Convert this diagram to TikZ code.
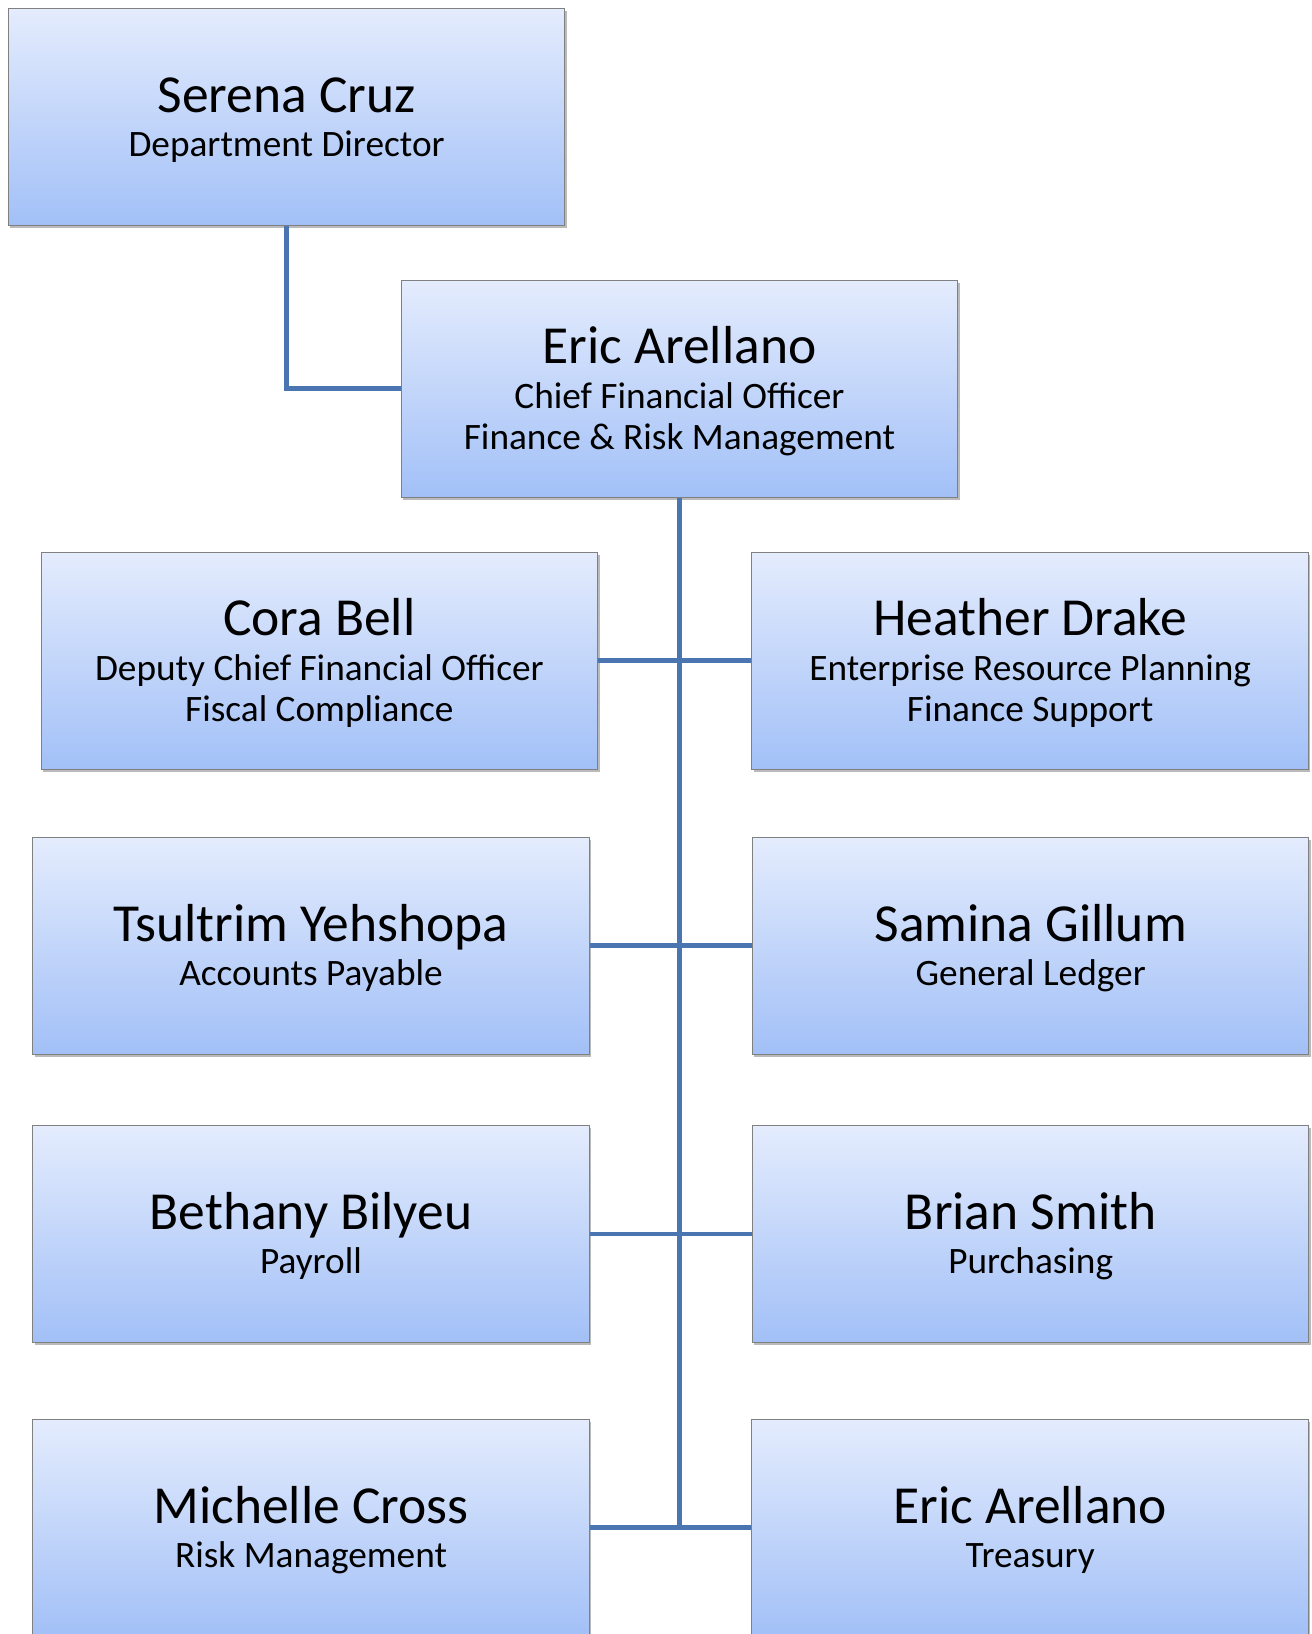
\documentclass[tikz,border=0pt]{standalone}
\usepackage{fontspec}
\setmainfont{Carlito}
\usetikzlibrary{shadows,calc}
\definecolor{boxtop}{RGB}{228,236,253}
\definecolor{boxbot}{RGB}{162,192,247}
\definecolor{boxline}{RGB}{128,128,128}
\definecolor{connblue}{RGB}{74,117,176}
\tikzset{
  unit/.style={rectangle, draw=boxline, line width=1pt, top color=boxtop, bottom color=boxbot,
    minimum width=556.5pt, minimum height=216.8pt, inner sep=0pt,
    drop shadow={shadow xshift=2pt, shadow yshift=-3pt, opacity=0.45, fill=black!60}},
  nametext/.style={anchor=base, inner sep=0pt, font=\fontsize{53.5}{60}\selectfont},
  subtext/.style={anchor=base, inner sep=0pt, font=\fontsize{37.3}{44}\selectfont},
  conn/.style={draw=connblue, line width=4.5pt}
}
\begin{document}
\begin{tikzpicture}[x=1pt,y=-1pt]
\useasboundingbox (0,0) rectangle (1312,1634);
\clip (0,0) rectangle (1312,1634);
% boxes
\node[unit] (serena)   at (286.6,116.7)  {};
\node[unit] (eric)     at (679.5,388.7)  {};
\node[unit] (cora)     at (319.4,660.7)  {};
\node[unit] (heather)  at (1030.2,660.7) {};
\node[unit] (tsultrim) at (311.0,945.7)  {};
\node[unit] (samina)   at (1030.7,945.7) {};
\node[unit] (bethany)  at (311.0,1233.8) {};
\node[unit] (brian)    at (1030.7,1233.8){};
\node[unit] (michelle) at (311.0,1527.7) {};
\node[unit] (ericb)    at (1030.2,1527.7){};
% connectors
\draw[conn] (serena.south) |- (eric.west);
\coordinate (trunkend) at (eric.south |- michelle.east);
\draw[conn] (eric.south) -- (trunkend);
\draw[conn] (cora.east) -- (heather.west);
\draw[conn] (tsultrim.east) -- (samina.west);
\draw[conn] (bethany.east) -- (brian.west);
\draw[conn] (michelle.east) -- (ericb.west);
% texts
\node[nametext] (serenaN) at ([yshift=4pt]serena.center) {Serena Cruz};
\node[subtext] (serenaS) at ([yshift=-40pt]serena.center) {Department Director};

\node[nametext] (ericN) at ([yshift=25pt]eric.center) {Eric Arellano};
\node[subtext] (ericS1) at ([yshift=-20pt]eric.center) {Chief Financial Officer};
\node[subtext] (ericS2) at ([yshift=-61pt]eric.center) {Finance \& Risk Management};

\node[nametext] (coraN) at ([yshift=25pt]cora.center) {Cora Bell};
\node[subtext] (coraS1) at ([yshift=-20pt]cora.center) {Deputy Chief Financial Officer};
\node[subtext] (coraS2) at ([yshift=-61pt]cora.center) {Fiscal Compliance};

\node[nametext] (heatherN) at ([yshift=25pt]heather.center) {Heather Drake};
\node[subtext] (heatherS1) at ([yshift=-20pt]heather.center) {Enterprise Resource Planning};
\node[subtext] (heatherS2) at ([yshift=-61pt]heather.center) {Finance Support};

\node[nametext] (tsultrimN) at ([yshift=4pt]tsultrim.center) {Tsultrim Yehshopa};
\node[subtext] (tsultrimS) at ([yshift=-40pt]tsultrim.center) {Accounts Payable};

\node[nametext] (saminaN) at ([yshift=4pt]samina.center) {Samina Gillum};
\node[subtext] (saminaS) at ([yshift=-40pt]samina.center) {General Ledger};

\node[nametext] (bethanyN) at ([yshift=4pt]bethany.center) {Bethany Bilyeu};
\node[subtext] (bethanyS) at ([yshift=-40pt]bethany.center) {Payroll};

\node[nametext] (brianN) at ([yshift=4pt]brian.center) {Brian Smith};
\node[subtext] (brianS) at ([yshift=-40pt]brian.center) {Purchasing};

\node[nametext] (michelleN) at ([yshift=4pt]michelle.center) {Michelle Cross};
\node[subtext] (michelleS) at ([yshift=-40pt]michelle.center) {Risk Management};

\node[nametext] (ericbN) at ([yshift=4pt]ericb.center) {Eric Arellano};
\node[subtext] (ericbS) at ([yshift=-40pt]ericb.center) {Treasury};
\end{tikzpicture}
\end{document}
